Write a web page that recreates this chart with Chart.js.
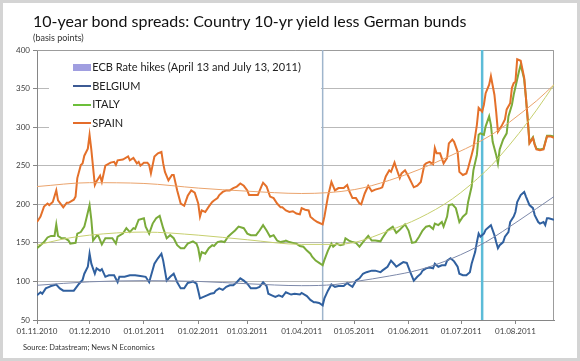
<!DOCTYPE html>
<html><head><meta charset="utf-8">
<script src="https://cdn.jsdelivr.net/npm/chart.js@4"></script>
<style>
html,body{margin:0;padding:0;background:#fff;}
#wrap{position:relative;width:580px;height:361px;overflow:hidden;font-family:Lato,"Open Sans",sans-serif;}
#frame{position:absolute;left:0;top:0;width:580px;height:361px;box-sizing:border-box;border:3px solid #d4d4d4;pointer-events:none;}
#title{position:absolute;left:33px;top:11px;font-size:16px;line-height:19px;color:#111;white-space:nowrap;}
#sub{position:absolute;left:33px;top:33px;font-size:9px;line-height:10px;color:#333;white-space:nowrap;}
#src{position:absolute;left:23px;top:343px;font-size:7.5px;line-height:9px;color:#333;white-space:nowrap;}
canvas{position:absolute;left:0;top:0;}
</style></head><body>
<div id="wrap"><canvas id="c" width="580" height="361"></canvas>
<div id="title">10-year bond spreads: Country 10-yr yield less German bunds</div>
<div id="sub">(basis points)</div>
<div id="src">Source: Datastream; News N Economics</div>
<div id="frame"></div></div>
<script>
// x values are days since 01.11.2010
const monthStartDays = [0, 30, 61, 92, 120, 151, 181, 212, 242, 273];
const monthLabels = ['01.11.2010','01.12.2010','01.01.2011','01.02.2011','01.03.2011','01.04.2011','01.05.2011','01.06.2011','01.07.2011','01.08.2011'];
const xMaxDay = 295;
const yTicks = [50, 100, 150, 200, 250, 300, 350, 400];
const ecbHikeDays = [163, 254]; // April 13 and July 13, 2011

const spainDays = [0,2,4,6,7,9,11,12,15,17,18,21,22,23,25,26,27,29,30,31,33,34,36,37,39,42,44,45,46,49,52,53,55,57,58,59,61,63,64,65,67,69,71,72,73,75,77,78,80,82,84,86,88,90,92,93,94,96,98,100,101,103,104,106,108,110,112,114,116,118,120,121,123,126,128,129,131,133,135,137,139,140,142,144,146,148,150,151,153,155,156,158,160,163,164,166,168,170,172,175,177,178,180,182,184,185,187,189,191,193,196,197,199,201,202,204,205,207,208,210,212,215,217,219,221,222,224,226,227,228,230,232,234,235,237,238,240,241,243,245,246,248,249,251,252,254,255,256,258,259,261,262,263,265,267,268,270,271,272,273,274,276,278,279,280,281,283,284,285,287,289,291,293,295];
const spainBp = [177,184,197,201,199,203,218,205,196,202,202,206,210,234,251,253,263,272,290,271,225,230,237,229,250,254,255,251,257,258,262,257,260,253,255,250,254,254,251,240,262,266,268,253,242,231,238,238,218,201,198,211,218,215,201,184,192,190,197,203,205,208,212,216,218,218,221,223,227,224,218,212,212,212,223,228,223,210,208,201,196,196,192,190,191,188,187,195,193,192,184,180,177,174,184,210,229,218,221,221,225,218,208,208,201,200,214,224,217,219,221,222,236,244,242,254,247,234,240,244,236,222,224,229,251,253,255,252,273,266,266,253,260,279,284,281,268,242,238,240,247,264,273,303,325,320,329,344,355,366,342,320,294,301,310,323,331,351,357,359,388,386,364,338,310,279,286,277,271,270,271,288,288,286];

const italyDays = [0,2,4,6,8,10,11,12,14,16,18,19,22,23,25,27,28,30,31,32,34,35,37,39,41,43,45,46,49,51,53,55,56,58,61,62,64,66,68,70,72,74,76,78,80,82,84,86,89,91,92,93,94,96,98,100,101,103,105,107,109,111,113,115,118,120,122,125,127,129,131,133,135,137,139,141,142,144,146,148,150,152,154,156,157,159,161,163,164,166,168,169,171,173,175,176,178,180,182,184,186,189,191,193,196,197,200,203,205,207,210,212,214,216,218,220,222,224,226,227,229,231,232,234,235,237,239,240,241,243,245,246,248,249,251,252,253,255,256,258,259,260,262,263,264,266,268,269,271,272,274,275,276,278,279,280,281,283,284,285,287,289,291,293,295];
const italyBp = [143,147,151,157,159,159,174,159,156,156,153,149,150,162,164,171,180,199,180,153,159,159,148,156,156,156,149,158,162,169,164,169,168,180,182,171,162,175,182,185,169,156,160,156,147,143,143,149,152,149,143,130,138,136,143,147,146,151,152,151,158,162,166,171,169,162,160,160,166,173,166,158,160,153,151,152,153,151,150,149,146,145,140,136,132,127,124,121,128,140,149,145,149,147,148,156,153,151,150,145,151,159,153,153,152,156,166,171,163,167,174,166,150,151,158,166,171,172,168,175,173,177,171,184,199,200,195,186,177,184,188,203,223,244,264,290,292,290,301,314,303,281,264,253,271,284,292,314,329,342,362,372,381,362,338,310,280,287,278,272,271,272,289,289,288];

const belgiumDays = [0,2,3,5,7,8,11,13,15,18,21,22,24,26,27,29,30,31,33,34,36,37,39,41,44,46,47,50,53,56,59,62,64,67,69,71,72,74,76,78,80,82,84,86,89,91,92,93,95,97,99,101,102,104,106,108,110,112,114,116,118,120,122,125,127,129,131,132,134,136,138,140,142,145,147,150,151,154,156,158,159,161,163,164,166,168,170,172,175,177,178,180,182,184,186,188,191,193,196,197,200,202,204,205,207,209,211,213,215,217,219,220,222,224,226,227,229,231,233,234,236,238,240,241,243,245,247,248,250,251,252,253,255,256,258,259,261,262,263,264,266,267,269,270,272,273,274,276,278,279,281,283,284,286,287,289,290,291,292,295];
const belgiumBp = [82,86,84,91,93,94,96,91,88,88,88,91,97,102,110,119,136,123,110,117,114,116,106,108,108,99,106,106,108,108,107,106,99,123,130,136,127,101,106,110,99,91,91,98,100,97,88,78,80,82,84,85,88,91,89,93,95,95,99,104,101,97,91,91,93,99,94,84,82,80,82,80,86,83,84,83,85,81,76,73,73,72,69,78,88,96,93,94,94,98,96,93,101,104,110,112,114,114,112,114,119,127,122,119,122,125,124,112,101,106,110,114,117,118,117,123,119,121,121,127,130,126,119,110,108,108,112,123,138,151,162,158,162,167,171,173,160,151,143,147,151,158,164,177,184,190,203,212,216,210,199,195,186,177,175,177,173,182,182,180];

// Polynomial trend lines
const spainTrendDays = [0,30,61,92,120,151,181,201,218,235,254,264,275,285,295];
const spainTrendBp = [223,228,227,221,217,214,219,231,245,262,283,297,316,334,355];
const italyTrendDays = [0,15,30,61,92,120,151,170,182,201,218,237,256,264,275,285,295];
const italyTrendBp = [147,155,160,164,160,154,148,148,151,166,182,207,243,262,292,322,355];
const belgiumTrendDays = [0,30,61,92,120,151,170,182,201,218,237,256,275,295];
const belgiumTrendBp = [95,99.5,101,100,97,94.5,96,100,107,115,130,151,179,210];

const toPts = (d, v) => d.map((x, i) => ({x, y: v[i]}));
const ecbPts = [];
ecbHikeDays.forEach(d => { ecbPts.push({x: d, y: yTicks[0]}, {x: d, y: yTicks[yTicks.length-1]}, {x: d, y: null}); });

function marker(color, w, h) {
  const c = document.createElement('canvas'); c.width = w; c.height = h;
  const g = c.getContext('2d'); g.fillStyle = color; g.fillRect(0, 0, w, h); return c;
}

Chart.defaults.font.family = 'Lato';
const legendPlacer = {
  id: 'legendPlacer',
  afterLayout(chart) {
    const lg = chart.legend; if (!lg) return;
    const pad = lg.options.labels.padding;
    const ca = chart.chartArea;
    lg.left = ca.left + 39.7 - pad;
    lg.top = ca.top + 11.8 - pad;
    lg.right = lg.left + 320; lg.bottom = lg.top + 300;
    lg.width = 320; lg.height = 300;
    if (!lg._wrapped) {
      const orig = lg.draw;
      lg.draw = function() {
        const p = this.options.labels.padding;
        const ctx = this.ctx; ctx.save(); ctx.fillStyle = '#ffffff';
        ctx.fillRect(this.left + p - 27.7, this.top + p - 10, 272, 84);
        ctx.restore();
        orig.apply(this, arguments);
      };
      lg._wrapped = true;
    }
  }
};
const frame = {
  id: 'frame',
  beforeDatasetsDraw(chart) {
    const {ctx, chartArea: a} = chart;
    ctx.save(); ctx.strokeStyle = '#9c9c9c'; ctx.lineWidth = 1;
    ctx.beginPath(); ctx.moveTo(a.left, a.top + 0.5); ctx.lineTo(a.right - 0.5, a.top + 0.5); ctx.lineTo(a.right - 0.5, a.bottom); ctx.stroke();
    ctx.restore();
  }
};

const base = {pointRadius: 0, pointHoverRadius: 0, fill: false, tension: 0};
new Chart(document.getElementById('c'), {
  type: 'line',
  data: {datasets: [
    {...base, label: 'ECB Rate hikes (April 13 and July 13, 2011)', data: ecbPts, spanGaps: false, order: 10,
     borderColor: '#5bbad6', borderWidth: 2,
     segment: {borderColor: c => c.p0.parsed.x === ecbHikeDays[0] ? '#9fb5cc' : '#5cbcd8', borderWidth: c => c.p0.parsed.x === ecbHikeDays[0] ? 1.5 : 2.5},
     legendMarker: marker('#a09ee0', 18, 7)},
    {...base, label: 'BELGIUM', data: toPts(belgiumDays, belgiumBp), borderColor: '#30609f', borderWidth: 2, order: 6, legendMarker: marker('#3c5a94', 18, 2)},
    {...base, label: 'ITALY', data: toPts(italyDays, italyBp), borderColor: '#7aab3a', borderWidth: 2, order: 5, legendMarker: marker('#6cbf3a', 18, 2)},
    {...base, label: 'SPAIN', data: toPts(spainDays, spainBp), borderColor: '#e4702a', borderWidth: 2, order: 4, legendMarker: marker('#e46c2a', 18, 2)},
    {...base, label: 'Belgium trend', data: toPts(belgiumTrendDays, belgiumTrendBp), borderColor: '#7d89aa', borderWidth: 1, cubicInterpolationMode: 'monotone', order: 1},
    {...base, label: 'Italy trend', data: toPts(italyTrendDays, italyTrendBp), borderColor: '#c6cf6e', borderWidth: 1, cubicInterpolationMode: 'monotone', order: 1},
    {...base, label: 'Spain trend', data: toPts(spainTrendDays, spainTrendBp), borderColor: '#eaa36c', borderWidth: 1, cubicInterpolationMode: 'monotone', order: 1}
  ]},
  options: {
    responsive: false, animation: false, devicePixelRatio: 1,
    layout: {padding: {left: 0, top: 50, right: 26, bottom: 0}},
    plugins: {
      title: {display: false}, tooltip: {enabled: false},
      legend: {
        display: true, position: 'chartArea', align: 'start',
        labels: {
          usePointStyle: true, pointStyleWidth: 10, boxHeight: 7, padding: 7.67,
          font: {size: 11, family: 'Lato'}, color: '#222',
          generateLabels(chart) {
            return chart.data.datasets.map((ds, i) => ({
              text: ds.label, datasetIndex: i, pointStyle: ds.legendMarker, fillStyle: '#fff', strokeStyle: '#fff', lineWidth: 0, hidden: false, fontColor: '#222'
            })).filter(it => it.pointStyle);
          }
        }
      }
    },
    scales: {
      x: {
        type: 'linear', min: 0, max: xMaxDay,
        afterBuildTicks: s => { s.ticks = monthStartDays.map(v => ({value: v})); },
        afterFit: s => { s.height = 41; },
        ticks: {autoSkip: false, maxRotation: 0, minRotation: 0, padding: 3, color: '#404040', font: {size: 8, family: 'Lato'},
          callback: (v, i) => monthLabels[i]},
        grid: {drawOnChartArea: false, tickLength: 4, color: '#868686'},
        border: {color: '#868686', width: 1}
      },
      y: {
        min: yTicks[0], max: yTicks[yTicks.length - 1],
        afterBuildTicks: s => { s.ticks = yTicks.map(v => ({value: v})); },
        afterFit: s => { s.width = 37; },
        ticks: {padding: 3, color: '#404040', font: {size: 8, family: 'Lato'}},
        grid: {color: '#b9b9b9', lineWidth: 1, tickLength: 4, tickColor: '#868686'},
        border: {color: '#868686', width: 1}
      }
    }
  },
  plugins: [legendPlacer, frame]
});
</script>
</body></html>
